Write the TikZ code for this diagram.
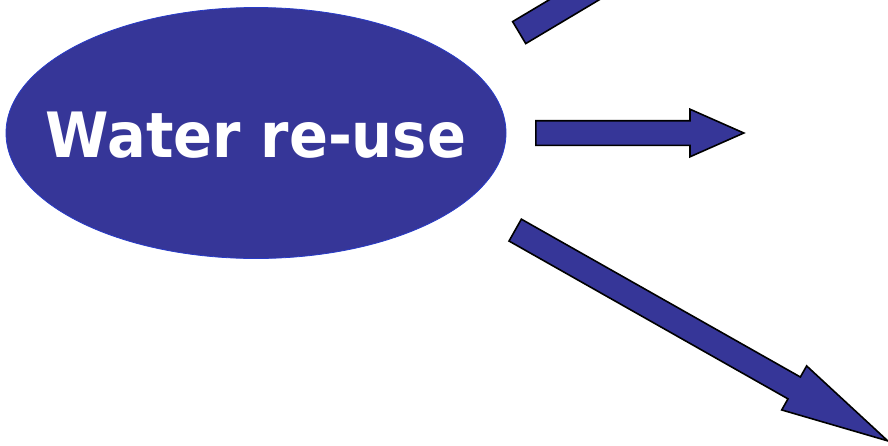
\documentclass[tikz,border=0pt]{standalone}
\usepackage{fontspec}
\usetikzlibrary{shapes.geometric, shapes.arrows}
\newfontfamily\reusefont[FakeStretch=0.92]{DejaVu Sans}
\definecolor{reuseblue}{RGB}{54,54,152}
\definecolor{rimblue}{RGB}{40,60,200}

\begin{document}
\begin{tikzpicture}[x=1pt, y=-1pt,
  blob/.style={ellipse, fill=reuseblue, draw=rimblue, line width=0.8pt,
    minimum width=500pt, minimum height=251pt, inner sep=0pt},
  blobtext/.style={text=white, inner sep=0pt,
    font=\reusefont\bfseries\fontsize{62.5}{62.5}\selectfont},
  blockarrow/.style={single arrow, fill=reuseblue, draw=black, line width=1.6pt,
    inner xsep=0pt, inner ysep=0pt, text width=0pt, text depth=0pt,
    minimum width=0pt, anchor=tail}]
  \useasboundingbox (0,0) rectangle (888,445);
  \clip (0,0) rectangle (888,445);

  % centre blob
  \node[blob] (reuse) at (256,133) {};
  \node[blobtext] (reusetext) at ([yshift=-2pt]reuse.center) {Water re-use};

  % arrows out of the blob
  \node[blockarrow, text height=24pt, minimum height=260pt,
    single arrow head extend=12pt, single arrow tip angle=47.7, rotate=30.8]
    (up) at (518.5,33) {};
  \node[blockarrow, text height=23pt, minimum height=208pt,
    single arrow head extend=11.5pt, single arrow tip angle=47.7]
    (ahead) at (535,133) {};
  \node[blockarrow, text height=23.5pt, minimum height=428pt,
    single arrow head extend=12.75pt, single arrow tip angle=26.5, rotate=-29.5]
    (down) at (514.5,229.7) {};
\end{tikzpicture}
\end{document}
